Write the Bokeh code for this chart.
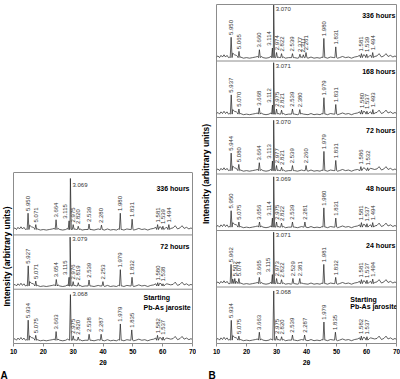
import math
from bokeh.plotting import figure
from bokeh.models import Span, Title, FixedTicker, Range1d, LinearAxis
from bokeh.layouts import row
from bokeh.core.properties import value
from bokeh.embed import file_html
from bokeh.resources import INLINE

FONT = "Liberation Sans"
X_TICKS = [10, 20, 30, 40, 50, 60, 70]
Y_LABEL = "Intensity (arbitrary units)"

# shared low-level background wiggle (2theta, relative intensity)
BG_X = [10.0, 10.5, 11.0, 11.5, 12.0, 12.5, 13.0, 13.5, 14.0, 14.4,
        15.4, 16.0, 16.6, 17.0, 18.0, 19.0, 20.0, 21.0, 22.0, 23.0,
        23.7, 24.9, 25.5, 26.5, 27.5, 28.1, 29.6, 30.5, 31.1, 32.3,
        33.0, 34.0, 35.0, 36.0, 37.0, 38.4, 39.0, 40.5, 41.5, 42.5,
        43.5, 44.5, 45.2, 46.4, 47.0, 48.0, 49.1, 50.3, 51.0, 52.0,
        53.0, 54.0, 55.0, 56.0, 57.0, 57.7, 59.0, 59.5, 61.0, 61.4,
        62.7, 63.5, 64.2, 65.0, 65.8, 66.5, 67.2, 68.0, 68.8, 69.5, 70.0]
BG_Y = [0.02, 0.04, 0.01, 0.05, 0.02, 0.06, 0.02, 0.05, 0.01, 0.02,
        0.09, 0.06, 0.05, 0.03, 0.02, 0.00, 0.01, 0.00, 0.01, 0.02,
        0.03, 0.03, 0.01, 0.00, 0.01, 0.03, 0.04, 0.02, 0.01, 0.02,
        0.00, 0.01, 0.00, 0.01, 0.00, 0.02, 0.01, 0.00, 0.02, 0.00,
        0.01, 0.00, 0.02, 0.01, 0.00, 0.02, 0.01, 0.00, 0.01, 0.03,
        0.01, 0.02, 0.00, 0.02, 0.03, 0.05, 0.06, 0.05, 0.04, 0.05,
        0.03, 0.04, 0.08, 0.02, 0.04, 0.08, 0.03, 0.05, 0.02, 0.04, 0.02]

# ---------------- Panel A ----------------
A_NAMES = ["Starting\nPb-As jarosite", "72 hours", "336 hours"]

A0_TT = [14.92, 17.46, 24.28, 29.08, 30.01, 31.70, 35.34, 39.37, 45.81, 49.64, 58.27, 60.15]
A0_H = [0.38, 0.10, 0.17, 0.85, 0.09, 0.07, 0.12, 0.12, 0.31, 0.20, 0.10, 0.07]
A0_D = ["5.934", "5.075", "3.663", "3.068", "2.975", "2.820", "2.538", "2.287", "1.979", "1.835", "1.582", "1.537"]

A1_TT = [14.93, 17.47, 24.34, 28.63, 28.98, 30.00, 31.72, 35.32, 39.98, 45.81, 49.73, 58.35, 60.11]
A1_H = [0.38, 0.10, 0.13, 0.17, 0.91, 0.09, 0.07, 0.12, 0.09, 0.31, 0.17, 0.07, 0.05]
A1_D = ["5.927", "5.071", "3.654", "3.115", "3.079", "2.976", "2.819", "2.539", "2.253", "1.979", "1.832", "1.580", "1.538"]

A2_TT = [14.88, 17.47, 24.27, 28.63, 29.07, 30.01, 31.70, 35.32, 39.49, 45.79, 49.76, 58.31, 60.07, 62.07]
A2_H = [0.31, 0.10, 0.19, 0.17, 0.95, 0.10, 0.07, 0.11, 0.09, 0.31, 0.20, 0.10, 0.07, 0.10]
A2_D = ["5.950", "5.071", "3.664", "3.115", "3.069", "2.975", "2.820", "2.539", "2.280", "1.980", "1.831", "1.581", "1.539", "1.494"]

# ---------------- Panel B ----------------
B_NAMES = ["Starting\nPb-As jarosite", "24 hours", "48 hours", "72 hours", "168 hours", "336 hours"]

B0_TT = [14.92, 17.46, 24.28, 29.08, 30.01, 31.70, 35.32, 39.37, 45.81, 49.64, 58.27, 60.15]
B0_H = [0.36, 0.08, 0.15, 0.88, 0.08, 0.07, 0.10, 0.10, 0.33, 0.15, 0.08, 0.07]
B0_D = ["5.934", "5.075", "3.663", "3.068", "2.975", "2.820", "2.539", "2.287", "1.979", "1.835", "1.582", "1.537"]

B1_TT = [14.85, 16.10, 17.46, 24.27, 28.63, 29.05, 30.03, 31.68, 35.47, 37.75, 45.77, 49.73, 58.31, 60.15, 62.07]
B1_H = [0.35, 0.10, 0.10, 0.12, 0.17, 0.92, 0.10, 0.08, 0.10, 0.10, 0.35, 0.12, 0.08, 0.07, 0.09]
B1_D = ["5.962", "5.502", "5.074", "3.665", "3.115", "3.071", "2.973", "2.822", "2.529", "2.381", "1.981", "1.832", "1.581", "1.537", "1.494"]

B2_TT = [14.88, 17.46, 24.33, 28.64, 29.07, 30.01, 31.68, 35.32, 39.47, 45.79, 49.76, 58.31, 60.15, 62.07]
B2_H = [0.30, 0.10, 0.10, 0.17, 0.90, 0.10, 0.08, 0.10, 0.10, 0.35, 0.17, 0.09, 0.07, 0.09]
B2_D = ["5.950", "5.075", "3.656", "3.114", "3.069", "2.975", "2.822", "2.539", "2.281", "1.980", "1.831", "1.581", "1.537", "1.494"]

B3_TT = [14.89, 17.44, 24.27, 28.65, 29.06, 30.00, 31.69, 35.32, 39.86, 45.81, 49.76, 58.12, 60.37]
B3_H = [0.32, 0.12, 0.15, 0.18, 0.90, 0.10, 0.07, 0.10, 0.10, 0.35, 0.19, 0.08, 0.06]
B3_D = ["5.944", "5.080", "3.664", "3.113", "3.070", "2.977", "2.821", "2.539", "2.260", "1.979", "1.831", "1.586", "1.532"]

B4_TT = [14.91, 17.47, 24.25, 28.66, 29.05, 30.01, 31.69, 35.32, 37.77, 45.81, 49.76, 58.35, 60.15, 62.12]
B4_H = [0.35, 0.10, 0.12, 0.17, 0.92, 0.10, 0.08, 0.10, 0.09, 0.30, 0.18, 0.08, 0.06, 0.09]
B4_D = ["5.937", "5.070", "3.668", "3.112", "3.071", "2.975", "2.821", "2.539", "2.380", "1.979", "1.831", "1.580", "1.537", "1.493"]

B5_TT = [14.88, 17.50, 24.30, 28.64, 29.06, 30.02, 31.68, 35.32, 37.81, 38.94, 39.84, 45.79, 49.76, 58.31, 60.07, 62.07]
B5_H = [0.37, 0.12, 0.15, 0.18, 0.94, 0.10, 0.08, 0.08, 0.07, 0.06, 0.10, 0.35, 0.20, 0.08, 0.07, 0.10]
B5_D = ["5.950", "5.065", "3.660", "3.114", "3.070", "2.974", "2.822", "2.539", "2.377", "2.311", "2.261", "1.980", "1.831", "1.581", "1.539", "1.494"]

GRAY = "#8c8c8c"
INK = "#1e1e1e"


def trace(tt, hh, base):
    pts = []
    for x, y in zip(BG_X, BG_Y):
        if all(abs(x - t) > 0.45 for t in tt):
            pts.append((x, base + y))
    for t, h in zip(tt, hh):
        pts += [(t - 0.3, base + 0.01), (t, base + h), (t + 0.3, base + 0.01)]
    pts.sort()
    return [q[0] for q in pts], [q[1] for q in pts]


def make_panel(width, ymax, left, right, patterns, names, bases, name_y, start_y,
               name_x, start_x, letter, letter_offset, box_top=None):
    p = figure(width=width, height=379, x_range=Range1d(10, 70), y_range=Range1d(0, ymax),
               output_backend="svg", toolbar_location=None,
               min_border_left=left, min_border_right=right,
               min_border_top=4, min_border_bottom=32)
    p.grid.visible = False
    p.background_fill_color = "white"
    p.border_fill_color = "white"
    p.outline_line_width = 1
    p.outline_line_color = GRAY if box_top is None else None

    xa = p.xaxis[0]
    xa.ticker = FixedTicker(ticks=X_TICKS, minor_ticks=[])
    xa.axis_line_color = GRAY
    xa.major_tick_line_color = GRAY
    xa.major_tick_out = 3
    xa.major_tick_in = 0
    xa.major_label_standoff = 2
    xa.major_label_text_font = FONT
    xa.major_label_text_font_style = "bold"
    xa.major_label_text_font_size = "6.5px"
    xa.major_label_text_color = "black"
    xa.axis_label = "2θ"
    xa.axis_label_standoff = 2
    xa.axis_label_text_font = FONT
    xa.axis_label_text_font_style = "bold"
    xa.axis_label_text_font_size = "7px"
    xa.axis_label_text_color = "black"

    ya = p.yaxis[0]
    ya.ticker = FixedTicker(ticks=[])
    ya.major_tick_out = 0
    ya.minor_tick_out = 0
    ya.major_label_standoff = 0
    if box_top is None:
        ya.axis_line_color = None
        ya.axis_label = Y_LABEL
        ya.axis_label_standoff = 6
        ya.axis_label_text_font = FONT
        ya.axis_label_text_font_style = "bold"
        ya.axis_label_text_font_size = "8.5px"
        ya.axis_label_text_color = "black"
    else:
        # panel box only as tall as the three patterns
        ya.axis_line_color = GRAY
        ya.bounds = (0, box_top)
        ra = LinearAxis(ticker=FixedTicker(ticks=[]), bounds=(0, box_top),
                        axis_line_color=GRAY, major_tick_out=0, minor_tick_out=0,
                        major_label_standoff=0)
        p.add_layout(ra, "right")
        p.add_layout(Span(location=box_top, dimension="width", line_color=GRAY, line_width=1))
        # y label centred on the short box (starts 37 px above frame bottom)
        p.add_layout(Title(text=Y_LABEL, align="left", offset=37, standoff=0,
                           vertical_align="top",
                           text_font=FONT, text_font_size="8.5px", text_font_style="bold",
                           text_color="black"), "left")

    n = len(patterns)
    for i in range(1, n):
        p.add_layout(Span(location=i, dimension="width", line_color=GRAY, line_width=1))

    for i, (tt, hh, dd) in enumerate(patterns):
        base = i + bases[i]
        xs, ys = trace(tt, hh, base)
        p.line(xs, ys, line_color=INK, line_width=0.7)
        imain = hh.index(max(hh))
        lx, ly, lt = [], [], []
        for k, (t, h, d) in enumerate(zip(tt, hh, dd)):
            if k == imain:
                continue
            shift = -1.3 if (k == imain - 1 and tt[imain] - t < 0.6) else 0.0
            lx.append(t + shift)
            ly.append(base + h + 0.04)
            lt.append(d)
        p.text(x=lx, y=ly, text=lt, angle=math.pi / 2, text_align="left",
               text_baseline="middle", text_font=value(FONT), text_font_size="6px",
               text_color="#333333")
        p.text(x=[tt[imain] + 0.7], y=[i + 0.92], text=[dd[imain]], text_align="left",
               text_baseline="middle", text_font=value(FONT), text_font_size="6px",
               text_color="#333333")
        nm = names[i]
        if "\n" in nm:
            l1, l2 = nm.split("\n")
            p.text(x=[start_x, start_x], y=[i + start_y[0], i + start_y[1]], text=[l1, l2],
                   text_align="left", text_baseline="middle", text_font=value(FONT),
                   text_font_size="7px", text_font_style="bold", text_color="black")
        else:
            p.text(x=[name_x], y=[i + name_y[i]], text=[nm], text_align="right",
                   text_baseline="middle", text_font=value(FONT), text_font_size="7px",
                   text_font_style="bold", text_color="black")

    p.add_layout(Title(text=letter, align="left", offset=letter_offset, standoff=-2,
                       text_font=FONT, text_font_size="10px", text_font_style="bold",
                       text_color="black"), "below")
    return p


# panel A: box spans 0..3.15 of a 0..6.245 range (frame shared in height with B)
pA = make_panel(196, 6.245, 13, 4,
                [(A0_TT, A0_H, A0_D), (A1_TT, A1_H, A1_D), (A2_TT, A2_H, A2_D)],
                A_NAMES, [0.05, 0.05, 0.09], [0.0, 0.79, 0.86], (0.855, 0.67),
                69.0, 53.6, "A", -13, box_top=3.15)

pB = make_panel(204, 6.0, 20, 4,
                [(B0_TT, B0_H, B0_D), (B1_TT, B1_H, B1_D), (B2_TT, B2_H, B2_D),
                 (B3_TT, B3_H, B3_D), (B4_TT, B4_H, B4_D), (B5_TT, B5_H, B5_D)],
                B_NAMES, [0.05] * 6, [0.0, 0.73, 0.75, 0.77, 0.81, 0.81], (0.77, 0.65),
                69.6, 54.6, "B", -8)

layout = row(pA, pB)
open("out.html", "w").write(file_html(layout, INLINE))
